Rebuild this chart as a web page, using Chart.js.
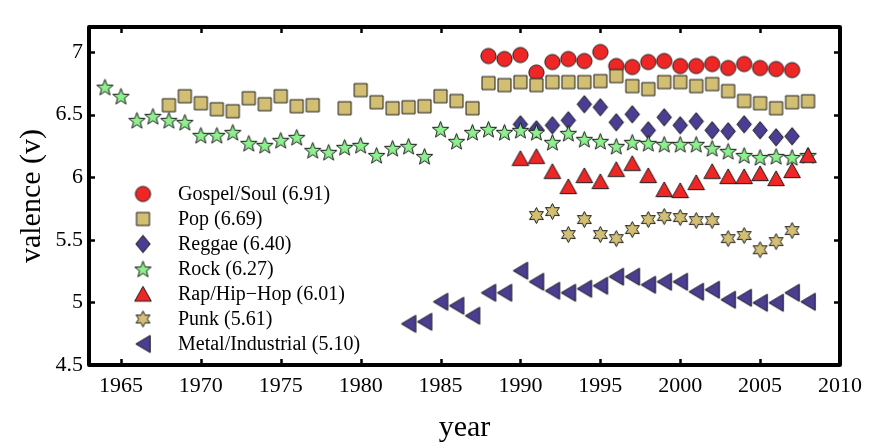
<!DOCTYPE html>
<html><head><meta charset="utf-8">
<script src="https://cdn.jsdelivr.net/npm/chart.js@4/dist/chart.umd.min.js"></script>
<style>html,body{margin:0;padding:0;background:#fff;}canvas{display:block;}</style>
</head><body>
<canvas id="c" width="873" height="448"></canvas>
<script>
// ---- data ----
const seriesLabels = ["Gospel/Soul (6.91)","Pop (6.69)","Reggae (6.40)","Rock (6.27)","Rap/Hip\u2212Hop (6.01)","Punk (5.61)","Metal/Industrial (5.10)"];
const gospelStart = 1988;
const gospel = [6.968,6.944,6.976,6.836,6.92,6.944,6.928,7.0,6.888,6.88,6.92,6.928,6.888,6.888,6.904,6.872,6.904,6.872,6.864,6.856];
const popStart = 1968;
const pop = [6.575,6.647,6.591,6.543,6.527,6.631,6.583,6.647,6.567,6.575,null,6.551,6.696,6.599,6.551,6.559,6.567,6.647,6.609,6.551,6.752,6.736,6.76,6.736,6.76,6.76,6.76,6.768,6.808,6.728,6.704,6.76,6.76,6.728,6.744,6.688,6.609,6.591,6.551,6.599,6.607];
const reggaeStart = 1990;
const reggae = [6.423,6.383,6.415,6.455,6.583,6.559,6.439,6.503,6.375,6.479,6.415,6.447,6.375,6.367,6.423,6.375,6.319,6.327];
const rockStart = 1964;
const rock = [6.72,6.647,6.455,6.487,6.455,6.439,6.335,6.335,6.359,6.271,6.255,6.295,6.319,6.215,6.199,6.239,6.255,6.175,6.231,6.247,6.167,6.383,6.287,6.359,6.383,6.359,6.375,6.359,6.279,6.351,6.303,6.287,6.247,6.279,6.271,6.263,6.263,6.263,6.231,6.207,6.175,6.159,6.167,6.159,6.175];
const rapStart = 1990;
const rap = [6.151,6.167,6.047,5.926,6.014,5.966,6.063,6.111,6.014,5.902,5.894,5.958,6.047,6.006,6.006,6.03,5.99,6.054,6.175];
const punkStart = 1991;
const punk = [5.694,5.726,5.542,5.662,5.542,5.51,5.582,5.662,5.686,5.678,5.654,5.654,5.51,5.534,5.421,5.486,5.574];
const metalStart = 1983;
const metal = [4.829,4.845,5.005,4.973,4.893,5.077,5.077,5.253,5.165,5.093,5.077,5.109,5.133,5.205,5.205,5.141,5.165,5.165,5.085,5.101,5.021,5.037,4.997,4.997,5.077,5.005];
const xTicks = [1965,1970,1975,1980,1985,1990,1995,2000,2005,2010];
const yTicks = [4.5,5,5.5,6,6.5,7];

// ---- marker images ----
const EDGE = '#1a1a1a';
function mk(w,h,path,fill){
  const c=document.createElement('canvas'); c.width=w; c.height=h;
  const g=c.getContext('2d'); g.beginPath(); path(g,w/2,h/2); g.closePath();
  g.fillStyle=fill; g.fill(); g.lineWidth=1; g.strokeStyle=EDGE; g.stroke(); return c;
}
function poly(g,pts){pts.forEach((p,i)=>i?g.lineTo(p[0],p[1]):g.moveTo(p[0],p[1]));}
function starPts(cx,cy,n,ro,ri){const p=[];for(let i=0;i<2*n;i++){const a=-Math.PI/2+i*Math.PI/n;const r=i%2?ri:ro;p.push([cx+r*Math.cos(a),cy+r*Math.sin(a)]);}return p;}
const RED='#ee2626', TAN='#d3bf74', BLUE='#4a3e92', GREEN='#8cf08c';
const markers = [
  mk(19,19,(g,cx,cy)=>g.arc(cx,cy,7.6,0,2*Math.PI),RED),
  mk(17,17,(g,cx,cy)=>g.rect(cx-6.5,cy-6.5,13,13),TAN),
  mk(18,21,(g,cx,cy)=>poly(g,[[cx,cy-8.7],[cx+7.2,cy],[cx,cy+8.7],[cx-7.2,cy]]),BLUE),
  mk(21,21,(g,cx,cy)=>poly(g,starPts(cx,cy+0.8,5,8.6,3.6)),GREEN),
  mk(20,19,(g,cx,cy)=>poly(g,[[cx,cy-7.6],[cx+8.3,cy+7.2],[cx-8.3,cy+7.2]]),RED),
  mk(19,19,(g,cx,cy)=>poly(g,starPts(cx,cy,6,8,4.3)),TAN),
  mk(18,21,(g,cx,cy)=>poly(g,[[cx-7.2,cy],[cx+7.2,cy-8.6],[cx+7.2,cy+8.6]]),BLUE)
];

function pts(start, vals){return vals.map((v,i)=>({x:start+i,y:v})).filter(p=>p.y!==null);}
const allData = [pts(gospelStart,gospel),pts(popStart,pop),pts(reggaeStart,reggae),pts(rockStart,rock),pts(rapStart,rap),pts(punkStart,punk),pts(metalStart,metal)];

const FONT = "'Liberation Serif', 'Times New Roman', serif";

const framePlugin = {
  id:'frame',
  afterDraw(chart){
    const {ctx, chartArea:a, scales:{x,y}} = chart;
    ctx.save();
    ctx.strokeStyle='#000'; ctx.lineWidth=2.5;
    const L=6;
    ctx.beginPath();
    xTicks.forEach(v=>{const px=Math.round(x.getPixelForValue(v))+0.5; ctx.moveTo(px,a.bottom); ctx.lineTo(px,a.bottom-L); ctx.moveTo(px,a.top); ctx.lineTo(px,a.top+L);});
    yTicks.forEach(v=>{const py=Math.round(y.getPixelForValue(v))+0.5; ctx.moveTo(a.left,py); ctx.lineTo(a.left+L,py); ctx.moveTo(a.right,py); ctx.lineTo(a.right-L,py);});
    ctx.stroke();
    ctx.lineWidth=4; ctx.lineJoin='round';
    ctx.strokeRect(a.left,a.top,a.right-a.left,a.bottom-a.top);
    ctx.restore();
  }
};
const legendPlugin = {
  id:'myLegend',
  afterDatasetsDraw(chart){
    const ctx=chart.ctx; ctx.save();
    ctx.font = "20px " + FONT; ctx.fillStyle='#000'; ctx.textBaseline='middle'; ctx.textAlign='left';
    seriesLabels.forEach((lab,i)=>{
      const yy = 194 + i*25;
      const m = markers[i];
      ctx.drawImage(m, 143 - m.width/2, yy - m.height/2);
      ctx.fillText(lab, 178, yy+1);
    });
    ctx.restore();
  }
};

new Chart(document.getElementById('c'), {
  type:'scatter',
  data:{datasets: allData.map((d,i)=>({label:seriesLabels[i], data:d, pointStyle:markers[i], pointRadius:8, pointHoverRadius:8, showLine:false, order:7-i}))},
  options:{
    responsive:false, animation:false, devicePixelRatio:1,
    layout:{padding:{left:14, right:33, top:27, bottom:0}},
    plugins:{legend:{display:false}, tooltip:{enabled:false}},
    scales:{
      x:{type:'linear', min:1963, max:2010,
        afterFit(s){s.height=83;},
        afterBuildTicks(s){s.ticks = xTicks.map(v=>({value:v}));},
        grid:{display:false, drawTicks:false}, border:{display:false},
        ticks:{callback:v=>String(v), color:'#000', font:{family:FONT, size:22}, padding:8, maxRotation:0, autoSkip:false},
        title:{display:true, text:'year', color:'#000', font:{family:FONT, size:30}, padding:{top:0,bottom:2}}
      },
      y:{type:'linear', min:4.5, max:7.2,
        afterFit(s){s.width=75;},
        afterBuildTicks(s){s.ticks = yTicks.map(v=>({value:v}));},
        grid:{display:false, drawTicks:false}, border:{display:false},
        ticks:{callback:v=>String(v), color:'#000', font:{family:FONT, size:22}, padding:6, autoSkip:false},
        title:{display:true, text:'valence (v)', color:'#000', font:{family:FONT, size:30}, padding:{top:0,bottom:0}}
      }
    }
  },
  plugins:[framePlugin, legendPlugin]
});
</script>
</body></html>
